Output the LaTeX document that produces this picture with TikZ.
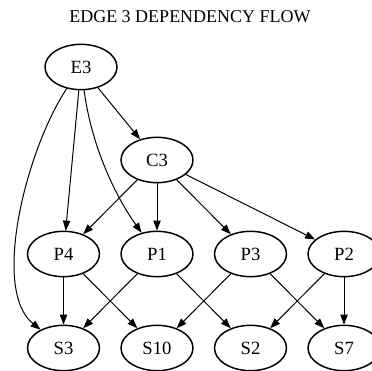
\documentclass[tikz,border=0pt]{standalone}
\usepackage{fontspec}
\setmainfont{Liberation Serif}
\usetikzlibrary{arrows.meta}
\usetikzlibrary{shapes.geometric}
\tikzset{>={Triangle[length=7.5pt,width=5.5pt]}}
\tikzset{depnode/.style={ellipse, draw, line width=1.1pt, inner sep=0pt,
    minimum width=54pt, minimum height=34pt, font=\fontsize{14}{16}\selectfont}}

\begin{document}
\begin{tikzpicture}[x=0.75pt, y=-0.75pt, line width=0.75pt]
    \useasboundingbox (0,0) rectangle (372,371);
    \node[font=\fontsize{13.5}{15}\selectfont] (title) at (190,17) {EDGE 3 DEPENDENCY FLOW};
    \node[depnode] (E3) at (81,67) {E3};
    \node[depnode] (C3) at (157,160) {C3};
    \foreach \nm/\x in {P4/63.5, P1/157, P3/250.5, P2/344}{
        \node[depnode] (\nm) at (\x,254) {\nm};
    }
    \foreach \nm/\x in {S3/63.5, S10/157, S2/250.5, S7/344}{
        \node[depnode] (\nm) at (\x,348) {\nm};
    }
    % edges out of E3
    \draw[->] (E3) -- (C3);
    \draw[->] (E3) -- (P4);
    \draw[->] (E3) .. controls (92,150) and (118,200) .. (P1);
    \draw[->] (E3) .. controls (26,150) and (-9,290) .. (S3);
    % C3 to the P row, P row to the S row
    \foreach \a/\b in {C3/P4, C3/P1, C3/P3, C3/P2,
                       P4/S3, P4/S10, P1/S3, P1/S2,
                       P3/S10, P3/S7, P2/S2, P2/S7}{
        \draw[->] (\a) -- (\b);
    }
\end{tikzpicture}
\end{document}
